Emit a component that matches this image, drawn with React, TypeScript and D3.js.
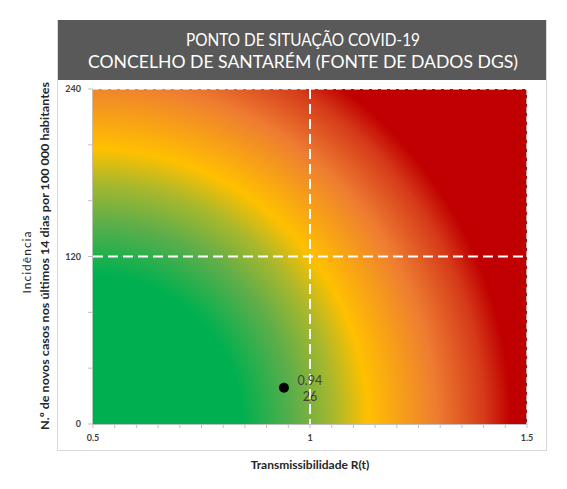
import * as React from "react";
import * as d3 from "d3";

// chart values
const titleLines = [
  "PONTO DE SITUAÇÃO COVID-19",
  "CONCELHO DE SANTARÉM (FONTE DE DADOS DGS)",
];
const xDomain = [0.5, 1.5];
const yDomain = [0, 240];
const xTickLabels = [0.5, 1, 1.5];
const yTickLabels = [0, 120, 240];
const refR = [1];
const refIncidence = [120];
const pointR = [0.94];
const pointIncidence = [26];
const pointLabels = ["0.94", "26"];
const xTitle = "Transmissibilidade R(t)";
const yTitleTop = "Incidência";
const yTitleBottom =
  "N.º de novos casos nos últimos 14 dias por 100 000 habitantes";

const gradientStops: [number, string][] = [
  [0, "#00b050"],
  [0.34, "#00b050"],
  [0.46, "#5eae4a"],
  [0.55, "#aab82c"],
  [0.625, "#ffc000"],
  [0.78, "#ee7d31"],
  [0.89, "#d53a19"],
  [0.95, "#c00000"],
  [1, "#c00000"],
];

const W = 567;
const H = 489;
const plot = { left: 93, right: 527, top: 89, bottom: 424 };

function App() {
  const x = d3.scaleLinear().domain(xDomain).range([plot.left, plot.right]);
  const y = d3.scaleLinear().domain(yDomain).range([plot.bottom, plot.top]);

  const xMinor = d3.range(0, 21).map((i) => xDomain[0] + i * 0.05);
  const yMinor = d3.range(0, 7).map((i) => i * 40);

  const font = "Lato, 'Open Sans', sans-serif";

  return (
    <svg
      width={W}
      height={H}
      style={{ position: "absolute", left: 0, top: 0 }}
      fontFamily={font}
    >
      <defs>
        <radialGradient
          id="risk"
          gradientUnits="userSpaceOnUse"
          cx={x(xDomain[0])}
          cy={y(0)}
          r={440}
        >
          {gradientStops.map(([o, c], i) => (
            <stop key={i} offset={o} stopColor={c} />
          ))}
        </radialGradient>
      </defs>
      <rect width={W} height={H} fill="#fff" />
      {/* frame + title */}
      <rect
        x={57.5}
        y={20.5}
        width={489}
        height={430}
        fill="#fff"
        stroke="#d9d9d9"
      />
      <rect x={58} y={20} width={488} height={60} fill="#595959" />
      {titleLines.map((t, i) => (
        <text
          key={i}
          x={303}
          y={46 + i * 22}
          textAnchor="middle"
          fill="#fff"
          fontSize={18}
          textLength={i === 0 ? 234 : 430}
          lengthAdjust="spacingAndGlyphs"
        >
          {t}
        </text>
      ))}

      {/* plot background */}
      <rect
        x={plot.left}
        y={plot.top}
        width={plot.right - plot.left}
        height={plot.bottom - plot.top}
        fill="url(#risk)"
      />

      {/* axes */}
      <line
        x1={plot.left}
        x2={plot.right}
        y1={plot.bottom + 0.5}
        y2={plot.bottom + 0.5}
        stroke="#bfbfbf"
      />
      <line
        x1={plot.left - 0.5}
        x2={plot.left - 0.5}
        y1={plot.top}
        y2={plot.bottom}
        stroke="#bfbfbf"
      />
      {xMinor.map((v, i) => (
        <line
          key={i}
          x1={x(v)}
          x2={x(v)}
          y1={plot.bottom}
          y2={plot.bottom + 4}
          stroke="#bfbfbf"
        />
      ))}
      {yMinor.map((v, i) => (
        <line
          key={i}
          x1={plot.left - 5}
          x2={plot.left}
          y1={y(v)}
          y2={y(v)}
          stroke="#bfbfbf"
        />
      ))}
      {xTickLabels.map((v, i) => (
        <text
          key={i}
          x={x(v)}
          y={plot.bottom + 17}
          textAnchor="middle"
          fontSize={9}
          fontWeight="bold"
          fill="#404040"
        >
          {v}
        </text>
      ))}
      {yTickLabels.map((v, i) => (
        <text
          key={i}
          x={plot.left - 12}
          y={y(v)}
          dy="0.35em"
          textAnchor="end"
          fontSize={9}
          fontWeight="bold"
          fill="#404040"
        >
          {v}
        </text>
      ))}

      {/* reference lines */}
      {refR.map((v, i) => (
        <line
          key={i}
          x1={x(v)}
          x2={x(v)}
          y1={plot.top}
          y2={plot.bottom}
          stroke="#fff"
          strokeWidth={2}
          strokeDasharray="10 5"
        />
      ))}
      {refIncidence.map((v, i) => (
        <line
          key={i}
          x1={plot.left}
          x2={plot.right}
          y1={y(v)}
          y2={y(v)}
          stroke="#fff"
          strokeWidth={2}
          strokeDasharray="10 5"
        />
      ))}
      <line
        x1={plot.left}
        x2={plot.right}
        y1={y(yDomain[1])}
        y2={y(yDomain[1])}
        stroke="#fff"
        strokeWidth={1.5}
        strokeDasharray="6 3"
        opacity={0.8}
      />
      <line
        x1={x(xDomain[1])}
        x2={x(xDomain[1])}
        y1={plot.top}
        y2={plot.bottom}
        stroke="#fff"
        strokeWidth={1.5}
        strokeDasharray="6 3"
        opacity={0.8}
      />

      {/* data point */}
      {pointR.map((r, i) => (
        <g key={i}>
          <circle cx={x(r)} cy={y(pointIncidence[i])} r={5} fill="#000" />
          {pointLabels.map((t, j) => (
            <text
              key={j}
              x={x(r) + 26}
              y={y(pointIncidence[i]) - 3 + j * 16}
              textAnchor="middle"
              fontSize={12.5}
              fill="#404040"
            >
              {t}
            </text>
          ))}
        </g>
      ))}

      {/* axis titles */}
      <text
        x={310}
        y={469}
        textAnchor="middle"
        fontSize={12}
        fontWeight="bold"
        fill="#262626"
      >
        {xTitle}
      </text>
      <text
        transform="translate(31,262) rotate(-90)"
        textAnchor="middle"
        fontSize={12}
        fill="#262626"
        letterSpacing={1}
      >
        {yTitleTop}
      </text>
      <text
        transform="translate(49,256) rotate(-90)"
        textAnchor="middle"
        fontSize={12}
        fontWeight="bold"
        fill="#262626"
        textLength={348}
        lengthAdjust="spacingAndGlyphs"
      >
        {yTitleBottom}
      </text>
    </svg>
  );
}

export default App;
